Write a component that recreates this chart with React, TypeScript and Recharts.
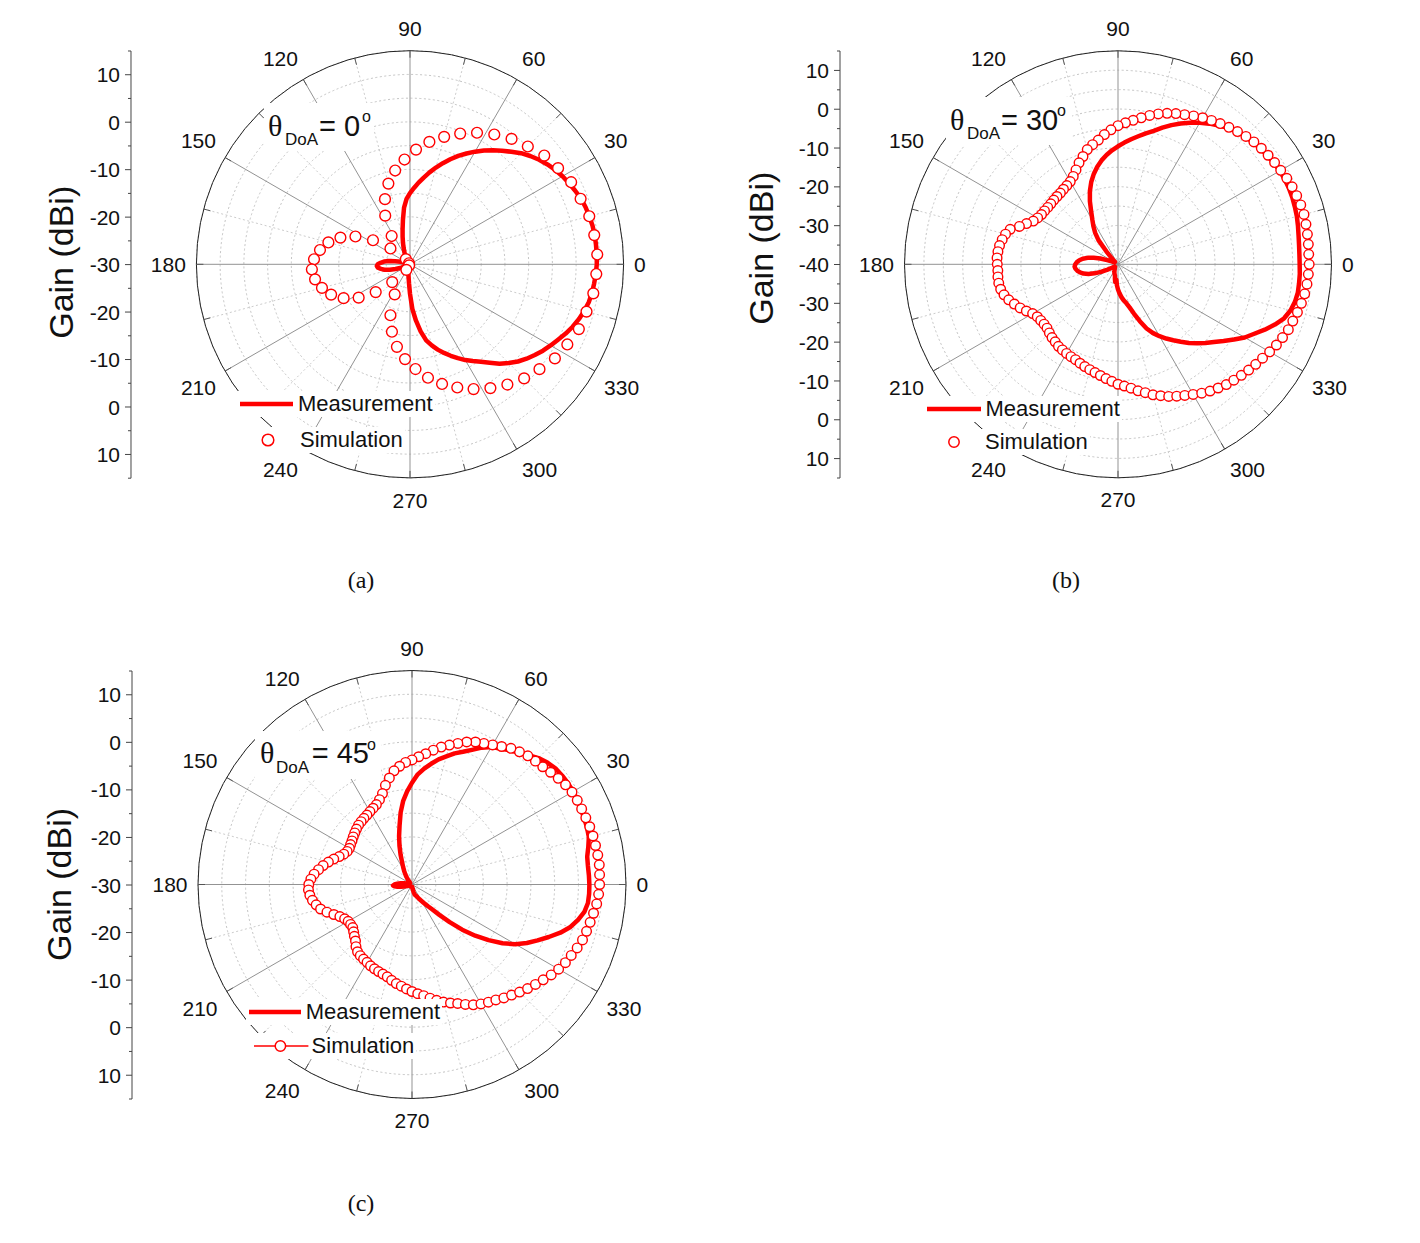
import React from 'react';
import {
  RadarChart,
  Radar,
  PolarGrid,
  PolarAngleAxis,
  PolarRadiusAxis,
  Legend,
  ComposedChart,
  YAxis,
} from 'recharts';

const SANS = '"Liberation Sans", Arial, Helvetica, sans-serif';
const SERIF = '"Liberation Serif", "Times New Roman", Times, serif';
const RED = '#ff0000';

// ---------- categories (azimuth, degrees) ----------
const ANGLES = [
  0, 3, 6, 9, 12, 15, 18, 21, 24, 27,
  30, 33, 36, 39, 42, 45, 48, 51, 54, 57,
  60, 63, 66, 69, 72, 75, 78, 81, 84, 87,
  90, 93, 96, 99, 102, 105, 108, 111, 114, 117,
  120, 123, 126, 129, 132, 135, 138, 141, 144, 147,
  150, 153, 156, 159, 162, 165, 168, 171, 174, 177,
  180, 183, 186, 189, 192, 195, 198, 201, 204, 207,
  210, 213, 216, 219, 222, 225, 228, 231, 234, 237,
  240, 243, 246, 249, 252, 255, 258, 261, 264, 267,
  270, 273, 276, 279, 282, 285, 288, 291, 294, 297,
  300, 303, 306, 309, 312, 315, 318, 321, 324, 327,
  330, 333, 336, 339, 342, 345, 348, 351, 354, 357,
];

const MAJOR_SPOKES = [0, 30, 60, 90, 120, 150, 180, 210, 240, 270, 300, 330];
const MINOR_SPOKES = [15, 45, 75, 105, 135, 165, 195, 225, 255, 285, 315, 345];
const ANGLE_LABELS = ['0', '30', '60', '90', '120', '150', '180', '210', '240', '270', '300', '330'];

// ---------- (a) theta_DoA = 0 ----------
const MEAS_A = [
  9.4, 9.4, 9.4, 9.3, 9.1, 8.9, 8.6, 8.1, 7.6, 7.1,
  6.5, 5.8, 5.0, 4.1, 3.1, 1.9, 0.8, -0.3, -1.4, -2.6,
  -3.8, -5.0, -6.3, -7.6, -8.9, -10.2, -11.5, -12.7, -13.9, -15.0,
  -16.2, -18.0, -20.5, -22.5, -24.0, -25.2, -26.2, -27.0, -27.6, -28.1,
  -28.5, -28.8, -29.0, -29.2, -29.3, -29.4, -29.5, -29.5, -29.6, -29.6,
  -29.5, -29.4, -29.2, -29.0, -28.0, -26.8, -25.6, -24.5, -23.8, -23.2,
  -23.0, -23.2, -23.8, -24.5, -25.6, -26.8, -28.0, -29.0, -29.3, -29.4,
  -29.5, -29.6, -29.6, -29.6, -29.6, -29.5, -29.5, -29.4, -29.3, -29.2,
  -29.1, -29.0, -28.9, -28.7, -28.5, -28.2, -27.8, -27.2, -26.0, -23.8,
  -20.6, -18.1, -15.7, -13.6, -12.3, -11.1, -10.0, -8.9, -7.8, -6.7,
  -5.7, -4.6, -3.3, -1.8, -0.6, 0.6, 1.6, 2.5, 3.4, 4.2,
  5.0, 5.9, 6.7, 7.4, 8.0, 8.5, 8.8, 9.0, 9.2, 9.35,
];
const SIM_A = [
  9.5, null, 9.3, null, 9.1, null, 8.5, null, 8.1, null,
  7.2, null, 6.4, null, 5.1, null, 4.0, null, 2.6, null,
  1.1, null, -0.5, null, -2.2, null, -3.9, null, -5.8, null,
  -7.9, null, -10.0, null, -12.4, null, -15.3, null, -18.5, null,
  -22.9, null, -28.6, null, -29.7, null, -24.7, null, -20.7, null,
  -17.1, null, -14.3, null, -12.2, null, -10.8, null, -9.75, null,
  -9.3, null, -9.75, null, -10.8, null, -12.2, null, -14.3, null,
  -17.1, null, -20.7, null, -24.7, null, -29.7, null, -28.6, null,
  -22.9, null, -18.5, null, -15.3, null, -12.4, null, -10.0, null,
  -7.9, null, -5.8, null, -3.9, null, -2.2, null, -0.5, null,
  1.1, null, 2.6, null, 4.0, null, 5.1, null, 6.4, null,
  7.2, null, 8.1, null, 8.5, null, 9.1, null, 9.3, null,
];

// ---------- (b) theta_DoA = 30 ----------
const MEAS_B = [
  6.8, 6.9, 7.1, 7.4, 7.7, 7.9, 8.1, 8.2, 8.2, 8.1,
  7.9, 7.6, 7.3, 6.9, 6.5, 6.0, 5.2, 4.2, 3.2, 2.1,
  0.9, -0.3, -1.6, -3.0, -4.4, -5.5, -6.6, -7.6, -8.6, -9.6,
  -10.6, -11.7, -12.9, -14.3, -15.9, -17.7, -19.8, -22.2, -24.8, -26.8,
  -28.4, -30.0, -32.0, -35.5, -37.5, -38.5, -39.0, -39.0, -39.0, -38.9,
  -38.7, -38.2, -37.0, -35.2, -33.5, -32.0, -30.8, -30.0, -29.4, -29.0,
  -28.8, -29.0, -29.4, -30.0, -30.8, -32.0, -33.5, -35.2, -37.0, -38.2,
  -38.8, -39.0, -39.0, -39.0, -38.9, -38.8, -38.7, -38.6, -38.4, -38.2,
  -38.0, -37.7, -37.5, -37.2, -37.0, -36.2, -35.4, -36.0, -34.6, -33.5,
  -32.5, -31.5, -30.6, -29.8, -28.5, -26.6, -24.3, -21.9, -20.1, -18.6,
  -17.2, -15.8, -14.3, -12.7, -11.2, -9.7, -8.2, -6.4, -4.4, -2.3,
  -0.6, 1.4, 3.3, 5.0, 6.0, 6.6, 6.9, 6.9, 6.9, 6.8,
];
const SIM_B = [
  9.2, 9.3, 9.4, 9.5, 9.6, 9.5, 9.3, 9.1, 8.8, 8.4,
  8.1, 7.8, 7.5, 7.1, 6.6, 6.0, 5.4, 4.8, 4.2, 3.6,
  2.9, 2.2, 1.6, 0.9, 0.1, -0.8, -1.8, -2.7, -3.5, -4.3,
  -5.3, -6.4, -7.6, -8.5, -9.4, -10.8, -12.0, -13.4, -14.6, -15.4,
  -15.8, -16.1, -16.4, -16.5, -16.6, -16.7, -16.7, -16.6, -16.5, -16.1,
  -15.5, -14.2, -12.8, -10.8, -10.0, -9.5, -9.1, -8.9, -8.8, -8.9,
  -9.0, -8.9, -8.9, -9.1, -9.6, -10.4, -11.4, -12.4, -13.5, -14.6,
  -15.2, -15.4, -15.5, -15.4, -15.0, -14.6, -14.3, -13.9, -13.7, -13.5,
  -13.3, -13.1, -12.7, -12.3, -11.9, -11.5, -11.0, -10.4, -9.8, -9.1,
  -8.6, -7.9, -7.0, -6.2, -5.2, -4.4, -3.55, -2.8, -2.1, -1.3,
  -0.4, 0.35, 1.0, 1.7, 2.2, 2.75, 3.3, 3.85, 4.4, 5.1,
  5.8, 6.4, 7.0, 7.35, 7.85, 8.3, 8.7, 8.95, 9.1, 9.25,
];

// ---------- (c) theta_DoA = 45 ----------
const MEAS_C = [
  7.25, 7.2, 7.3, 7.9, 8.5, 8.7, 8.8, 8.9, 9.0, 9.1,
  9.1, 9.0, 8.8, 8.3, 7.6, 6.6, 5.7, 4.9, 4.1, 3.4,
  2.3, 1.0, -0.1, -1.0, -2.1, -3.1, -4.3, -5.5, -6.8, -8.6,
  -10.4, -12.3, -14.7, -17.4, -19.5, -21.5, -23.3, -24.9, -25.9, -26.7,
  -27.4, -28.0, -28.5, -29.0, -29.3, -29.4, -29.5, -29.5, -29.5, -29.5,
  -29.4, -29.4, -29.4, -29.3, -29.2, -28.9, -28.3, -27.6, -26.9, -26.3,
  -26.0, -26.3, -26.9, -27.6, -28.3, -28.9, -29.2, -29.4, -29.5, -29.5,
  -29.5, -29.5, -29.5, -29.5, -29.5, -29.5, -29.5, -29.5, -29.5, -29.5,
  -29.5, -29.5, -29.5, -29.5, -29.5, -29.5, -29.5, -29.5, -29.5, -29.5,
  -29.5, -29.4, -29.0, -28.3, -27.8, -27.6, -27.4, -27.0, -26.5, -26.0,
  -25.3, -24.4, -23.3, -21.4, -18.8, -15.8, -12.9, -10.1, -7.3, -4.9,
  -2.9, -1.1, 0.8, 2.8, 4.5, 5.7, 6.7, 7.2, 7.3, 7.3,
];
const SIM_C = [
  9.5, 9.6, 9.55, 9.45, 9.4, 9.3, 9.15, 9.05, 9.0, 8.85,
  8.5, 8.0, 7.5, 7.0, 6.7, 6.4, 5.9, 5.4, 4.6, 3.9,
  3.3, 2.8, 2.1, 1.2, 0.35, -0.45, -1.4, -2.35, -3.1, -3.8,
  -4.3, -5.0, -5.8, -7.1, -8.4, -9.9, -10.9, -11.6, -12.0, -12.3,
  -12.6, -12.8, -13.0, -13.2, -13.5, -13.8, -14.1, -14.4, -14.6, -14.8,
  -14.7, -14.3, -13.6, -12.7, -11.8, -10.9, -10.1, -9.3, -8.7, -8.3,
  -8.2, -8.4, -8.8, -9.4, -10.1, -11.2, -12.4, -13.4, -14.1, -14.5,
  -14.6, -14.6, -14.2, -13.7, -13.2, -12.4, -11.8, -11.5, -11.3, -11.1,
  -10.8, -10.6, -10.4, -10.2, -9.9, -9.4, -8.9, -8.5, -8.0, -7.5,
  -7.0, -6.5, -5.8, -5.1, -4.4, -3.8, -3.2, -2.4, -1.6, -1.0,
  -0.5, 0.0, 0.7, 1.3, 2.0, 2.7, 3.4, 4.1, 4.9, 5.6,
  6.2, 6.65, 7.2, 7.7, 8.0, 8.3, 8.65, 9.05, 9.3, 9.45,
];

// ---------- left "Gain (dBi)" axis ticks (signed distance from centre, dB) ----------
const GAIN_MAJOR_30 = [40, 30, 20, 10, 0, -10, -20, -30, -40];
const GAIN_LABELS_30 = ['10', '0', '-10', '-20', '-30', '-20', '-10', '0', '10'];
const GAIN_MINOR_30 = [45, 35, 25, 15, 5, -5, -15, -25, -35, -45];
const GAIN_MAJOR_40 = [50, 40, 30, 20, 10, 0, -10, -20, -30, -40, -50];
const GAIN_LABELS_40 = ['10', '0', '-10', '-20', '-30', '-40', '-30', '-20', '-10', '0', '10'];
const GAIN_MINOR_40 = [55, 45, 35, 25, 15, 5, -5, -15, -25, -35, -45, -55];

type Panel = {
  id: string;
  left: number; top: number; width: number; height: number;
  cx: number; cy: number; R: number;
  domain: [number, number]; tickCount: number;
  meas: number[]; sim: (number | null)[];
  simR: number; simLine: boolean;
  gainAxisX: number; gainDomain: [number, number];
  gainMajor: number[]; gainLabels: string[]; gainMinor: number[];
  gainLabelX: number; gainLabelY: number;
  title: { box: [number, number, number, number]; theta: [number, number]; sub: [number, number]; eq: [number, number]; eqText: string; sup: [number, number] };
  legend: { measX1: number; measX2: number; measY: number; measTextX: number; simCx: number; simY: number; simTextX: number; simX1?: number; simX2?: number };
  caption: { text: string; x: number; y: number };
};

const PANELS: Panel[] = [
  {
    id: 'a', left: 0, top: 0, width: 710, height: 560,
    cx: 410, cy: 264.3, R: 213.6, domain: [-30, 15], tickCount: 10,
    meas: MEAS_A, sim: SIM_A, simR: 5.4, simLine: false,
    gainAxisX: 131, gainDomain: [-45, 45],
    gainMajor: GAIN_MAJOR_30, gainLabels: GAIN_LABELS_30, gainMinor: GAIN_MINOR_30,
    gainLabelX: 61, gainLabelY: 262,
    title: { box: [264, 103, 110, 48], theta: [268, 136], sub: [285, 145], eq: [319, 136], eqText: '= 0', sup: [362, 122] },
    legend: { measX1: 240, measX2: 293, measY: 403.5, measTextX: 298, simCx: 268.3, simY: 440, simTextX: 300 },
    caption: { text: '(a)', x: 361, y: 580 },
  },
  {
    id: 'b', left: 710, top: 0, width: 710, height: 560,
    cx: 1118, cy: 264.3, R: 213.5, domain: [-40, 15], tickCount: 12,
    meas: MEAS_B, sim: SIM_B, simR: 4.8, simLine: false,
    gainAxisX: 840, gainDomain: [-55, 55],
    gainMajor: GAIN_MAJOR_40, gainLabels: GAIN_LABELS_40, gainMinor: GAIN_MINOR_40,
    gainLabelX: 761, gainLabelY: 248,
    title: { box: [946, 97, 126, 48], theta: [950, 130], sub: [967, 139], eq: [1001, 130], eqText: '= 30', sup: [1057, 116] },
    legend: { measX1: 927, measX2: 981, measY: 409.3, measTextX: 985.4, simCx: 953.7, simY: 441.7, simTextX: 985 },
    caption: { text: '(b)', x: 1066, y: 580 },
  },
  {
    id: 'c', left: 0, top: 626, width: 710, height: 617,
    cx: 412, cy: 884.5, R: 214, domain: [-30, 15], tickCount: 10,
    meas: MEAS_C, sim: SIM_C, simR: 4.8, simLine: true,
    gainAxisX: 132, gainDomain: [-45, 45],
    gainMajor: GAIN_MAJOR_30, gainLabels: GAIN_LABELS_30, gainMinor: GAIN_MINOR_30,
    gainLabelX: 59, gainLabelY: 884,
    title: { box: [255, 731, 126, 48], theta: [260, 763], sub: [276, 773], eq: [311.7, 763], eqText: '= 45', sup: [367, 750] },
    legend: { measX1: 249, measX2: 301, measY: 1011.7, measTextX: 305.7, simCx: 280, simY: 1045.7, simTextX: 311.6, simX1: 253.6, simX2: 308 },
    caption: { text: '(c)', x: 361, y: 1203 },
  },
];

function buildRows(meas: number[], sim: (number | null)[]) {
  return ANGLES.map((angle, i) => ({ angle, meas: meas[i], sim: sim[i] }));
}

const RAD = Math.PI / 180;

const makeAngleTick = (fs: number, R: number) => (props: any) => {
  const { x, y, payload, index } = props;
  const k = `at-${index}`;
  const val = Number(payload?.value);
  if (!Number.isFinite(val) || val % 15 !== 0) return <g key={k} />;
  // centre of the polar plot (from the library's props, or recovered from the tick point)
  let ccx = Number(props.cx);
  let ccy = Number(props.cy);
  if (!Number.isFinite(ccx) || !Number.isFinite(ccy)) {
    const c = Number(payload?.coordinate) * RAD;
    ccx = x - R * Math.cos(c);
    ccy = y + R * Math.sin(c);
  }
  const rad = Number.isFinite(Number(props.radius)) ? Number(props.radius) : R;
  const a = val * RAD;
  const ux = Math.cos(a);
  const uy = -Math.sin(a);
  const px = ccx + rad * ux;
  const py = ccy + rad * uy;
  const tick = (
    <line x1={px} y1={py} x2={px - ux * 7} y2={py - uy * 7} stroke="#555" strokeWidth={1} />
  );
  if (val % 30 !== 0) return <g key={k}>{tick}</g>;
  const label = ANGLE_LABELS[val / 30] ?? String(val);
  // anchor point just outside the circle; text box corner/edge sits on it
  const gap = 10.5;
  const ax = px + ux * gap;
  const ay = py + uy * gap;
  const eps = 1e-6;
  const anchor = ux > eps ? 'start' : ux < -eps ? 'end' : 'middle';
  const h = fs * 1.1;
  const cyText = uy < -eps ? ay - h / 2 : uy > eps ? ay + h / 2 : ay;
  return (
    <g key={k}>
      {tick}
      <text
        x={ax}
        y={cyText}
        dy="0.36em"
        textAnchor={anchor}
        fontSize={fs}
        fontFamily={SANS}
        fill="#111"
      >
        {label}
      </text>
    </g>
  );
};

const makeSimDot = (r: number) => (props: any) => {
  const p = props.payload ?? {};
  const raw = p.payload && typeof p.payload === 'object' ? p.payload : p;
  const k = props.key ?? `sd-${props.index}`;
  if (raw.sim == null || !Number.isFinite(props.cx) || !Number.isFinite(props.cy)) return <g key={k} />;
  return <circle key={k} cx={props.cx} cy={props.cy} r={r} fill="#ffffff" stroke={RED} strokeWidth={1.4} />;
};

const makeLegend = (cfg: Panel) => (props: any) => {
  const L = cfg.legend;
  const items: any[] = props?.payload ?? [];
  const hasMeas = items.length === 0 || items.some((it) => it.dataKey === 'meas');
  const hasSim = items.length === 0 || items.some((it) => it.dataKey === 'sim');
  const measName = items.find((it) => it.dataKey === 'meas')?.value ?? 'Measurement';
  const simName = items.find((it) => it.dataKey === 'sim')?.value ?? 'Simulation';
  const mx0 = L.measX1 - 3 - cfg.left;
  const sx0 = (L.simX1 ?? L.simCx - 9) - 3 - cfg.left;
  const textStyle: React.CSSProperties = {
    fontFamily: SANS, fontSize: 22, lineHeight: '26px', color: '#111', whiteSpace: 'nowrap',
  };
  return (
    <div style={{ position: 'relative', width: 0, height: 0 }}>
      {hasMeas && (
        <div style={{ position: 'absolute', left: mx0, top: L.measY - 13 - cfg.top, height: 26, background: '#fff', display: 'flex', alignItems: 'center', paddingRight: 2 }}>
          <svg width={L.measTextX - cfg.left - mx0} height={26} style={{ display: 'block' }}>
            <line x1={L.measX1 - cfg.left - mx0} x2={L.measX2 - cfg.left - mx0} y1={13} y2={13} stroke={RED} strokeWidth={4.5} />
          </svg>
          <span style={textStyle}>{measName}</span>
        </div>
      )}
      {hasSim && (
        <div style={{ position: 'absolute', left: sx0, top: L.simY - 13 - cfg.top, height: 26, background: '#fff', display: 'flex', alignItems: 'center', paddingRight: 2 }}>
          <svg width={L.simTextX - cfg.left - sx0} height={26} style={{ display: 'block' }}>
            {L.simX1 != null && L.simX2 != null && (
              <line x1={L.simX1 - cfg.left - sx0} x2={L.simX2 - cfg.left - sx0} y1={13} y2={13} stroke={RED} strokeWidth={1.5} />
            )}
            <circle cx={L.simCx - cfg.left - sx0} cy={13} r={cfg.simR + 0.4} fill="#fff" stroke={RED} strokeWidth={1.5} />
          </svg>
          <span style={textStyle}>{simName}</span>
        </div>
      )}
    </div>
  );
};

function GainAxis({ cfg }: { cfg: Panel }) {
  const AXW = 120;
  const left = cfg.gainAxisX - AXW;
  const top = cfg.cy - cfg.R - 10;
  const ticks = [...cfg.gainMajor, ...cfg.gainMinor];
  const tick = (props: any) => {
    const { x, y, payload, index } = props;
    const v = Number(payload?.value);
    const mi = cfg.gainMajor.indexOf(v);
    const major = mi >= 0;
    return (
      <g key={`gt-${index}`}>
        <line x1={x} x2={x - (major ? 6 : 3)} y1={y} y2={y} stroke="#444" strokeWidth={1} />
        {major && (
          <text x={x - 11} y={y} dy="0.36em" textAnchor="end" fontSize={21} fontFamily={SANS} fill="#111">
            {cfg.gainLabels[mi]}
          </text>
        )}
      </g>
    );
  };
  const label = (p: any) => {
    const vb = p?.viewBox ?? { x: 0, y: 10, width: AXW, height: 2 * cfg.R };
    const lx = vb.x + (cfg.gainLabelX - left);
    const ly = vb.y + vb.height / 2 + (cfg.gainLabelY - cfg.cy);
    return (
      <text
        x={lx}
        y={ly}
        transform={`rotate(-90 ${lx} ${ly})`}
        textAnchor="middle"
        dy="0.36em"
        fontSize={34}
        fontFamily={SANS}
        fill="#111"
      >
        Gain (dBi)
      </text>
    );
  };
  return (
    <div style={{ position: 'absolute', left, top }}>
      <ComposedChart width={AXW + 10} height={2 * cfg.R + 20} margin={{ top: 10, bottom: 10, left: 0, right: 0 }} data={[]}>
        <YAxis
          type="number"
          domain={cfg.gainDomain}
          ticks={ticks}
          interval={0}
          width={AXW}
          tickSize={0}
          tickMargin={0}
          tickLine={false}
          axisLine={{ stroke: '#444', strokeWidth: 1 }}
          tick={tick}
          allowDataOverflow
          label={label}
        />
      </ComposedChart>
    </div>
  );
}

function Title({ cfg }: { cfg: Panel }) {
  const t = cfg.title;
  const [bx, by, bw, bh] = t.box;
  return (
    <svg style={{ position: 'absolute', left: bx, top: by, overflow: 'visible' }} width={bw} height={bh}>
      <rect x={0} y={0} width={bw} height={bh} fill="#ffffff" />
      <text x={t.theta[0] - bx} y={t.theta[1] - by} fontFamily={SERIF} fontSize={30} fill="#111">θ</text>
      <text x={t.sub[0] - bx} y={t.sub[1] - by} fontFamily={SANS} fontSize={17} fill="#111">DoA</text>
      <text x={t.eq[0] - bx} y={t.eq[1] - by} fontFamily={SANS} fontSize={29} fill="#111" style={{ whiteSpace: 'pre' }}>{t.eqText}</text>
      <text x={t.sup[0] - bx} y={t.sup[1] - by} fontFamily={SANS} fontSize={16} fill="#111">o</text>
    </svg>
  );
}

function PolarPanel({ cfg }: { cfg: Panel }) {
  const data = buildRows(cfg.meas, cfg.sim);
  return (
    <>
      <div style={{ position: 'absolute', left: cfg.left, top: cfg.top }}>
        <RadarChart
          width={cfg.width}
          height={cfg.height}
          cx={cfg.cx - cfg.left}
          cy={cfg.cy - cfg.top}
          outerRadius={cfg.R}
          innerRadius={0}
          startAngle={0}
          endAngle={360}
          data={data}
          margin={{ top: 0, right: 0, bottom: 0, left: 0 }}
        >
          <PolarGrid gridType="circle" radialLines={false} stroke="#c4c4c4" strokeDasharray="2 2.5" />
          <PolarGrid gridType="circle" polarAngles={MINOR_SPOKES} polarRadius={[]} stroke="#cccccc" strokeDasharray="2 2.5" />
          <PolarGrid gridType="circle" polarAngles={MAJOR_SPOKES} polarRadius={[]} stroke="#939393" />
          <PolarAngleAxis
            dataKey="angle"
            type="category"
            tickLine={false}
            tickSize={0}
            axisLineType="circle"
            stroke="#222"
            axisLine={{ stroke: '#222', strokeWidth: 1 }}
            tick={makeAngleTick(21, cfg.R)}
          />
          <PolarRadiusAxis
            type="number"
            domain={cfg.domain}
            tickCount={cfg.tickCount}
            tick={false}
            axisLine={false}
            allowDataOverflow
          />
          <Radar
            name="Measurement"
            dataKey="meas"
            stroke={RED}
            strokeWidth={4.5}
            strokeLinejoin="round"
            fill="none"
            fillOpacity={0}
            dot={false}
            activeDot={false}
            legendType="line"
            isAnimationActive={false}
          />
          <Radar
            name="Simulation"
            dataKey="sim"
            stroke={cfg.simLine ? RED : 'none'}
            strokeWidth={1}
            fill="none"
            fillOpacity={0}
            dot={makeSimDot(cfg.simR)}
            activeDot={false}
            legendType="circle"
            connectNulls
            isAnimationActive={false}
          />
          <Legend
            layout="horizontal"
            verticalAlign="middle"
            align="center"
            wrapperStyle={{ left: 0, top: 0, width: 0, height: 0, overflow: 'visible' }}
            content={makeLegend(cfg)}
          />
        </RadarChart>
      </div>
      <GainAxis cfg={cfg} />
      <Title cfg={cfg} />
      <div
        style={{
          position: 'absolute', left: cfg.caption.x - 50, top: cfg.caption.y - 14, width: 100,
          textAlign: 'center', fontFamily: SERIF, fontSize: 24, lineHeight: '28px', color: '#111',
        }}
      >
        {cfg.caption.text}
      </div>
    </>
  );
}

export default function App() {
  return (
    <div style={{ position: 'absolute', left: 0, top: 0, width: 1420, height: 1243, background: '#fff', overflow: 'hidden' }}>
      {PANELS.map((p) => (
        <PolarPanel key={p.id} cfg={p} />
      ))}
    </div>
  );
}
